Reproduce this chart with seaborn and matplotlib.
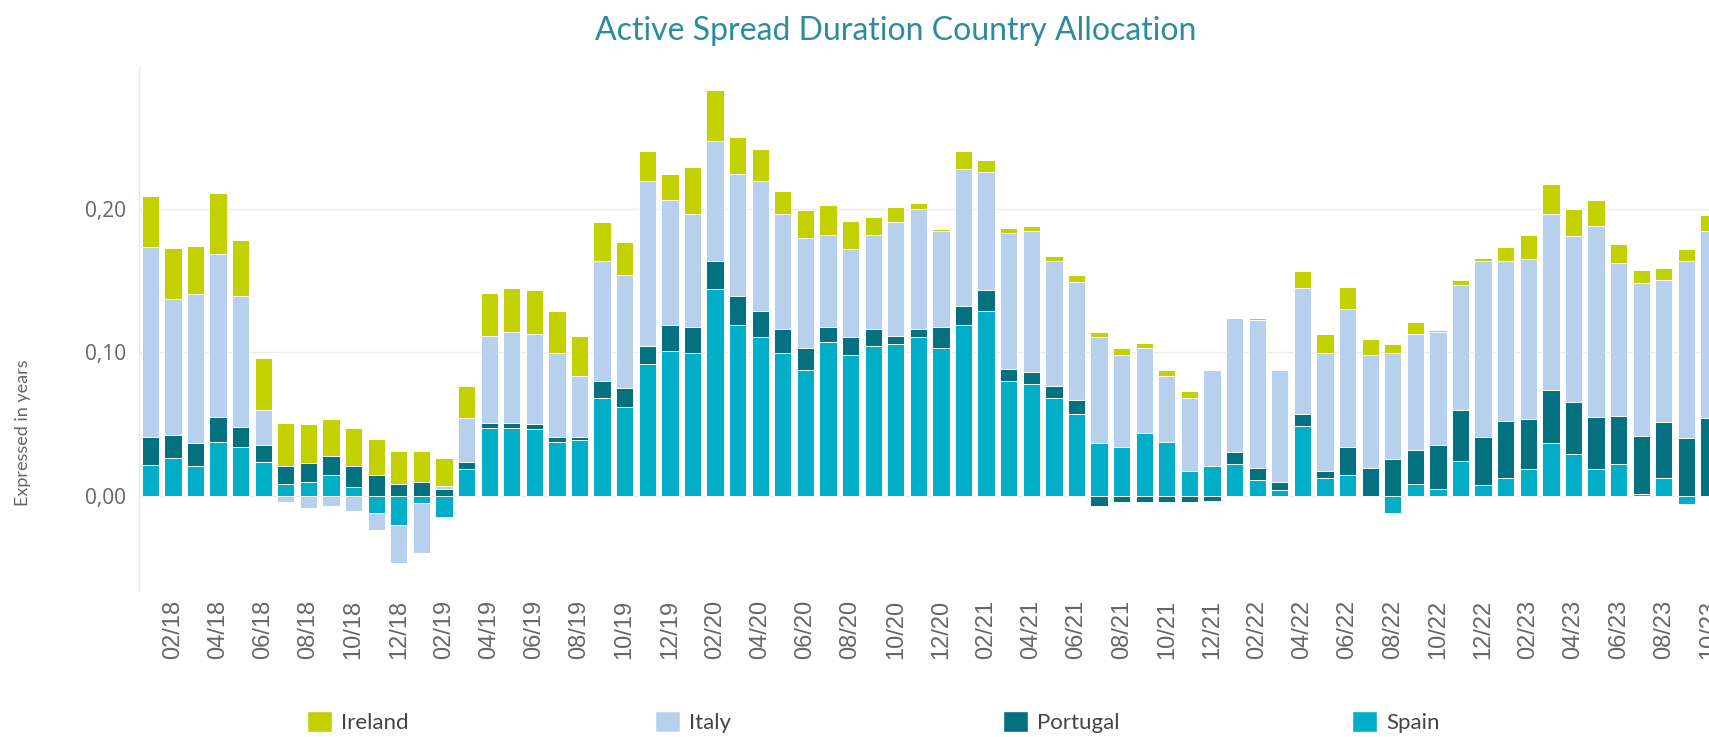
import numpy as np
import pandas as pd
import matplotlib
matplotlib.use("Agg")
import matplotlib.pyplot as plt
import seaborn as sns
from matplotlib.patches import Patch

months = [f"{m:02d}/{y}" for y in range(18, 24) for m in range(1, 13)][:70]

ireland = [0.036, 0.036, 0.0338, 0.0424, 0.0386, 0.0365, 0.030, 0.0266, 0.0254, 0.0266,
           0.0254, 0.023, 0.0216, 0.0194, 0.0218, 0.0293, 0.0305, 0.0305, 0.0293, 0.0278,
           0.0269, 0.023, 0.0206, 0.0182, 0.0326, 0.0353, 0.0254, 0.0218, 0.0158, 0.0194,
           0.0206, 0.0194, 0.0122, 0.0108, 0.0036, 0.0012, 0.0122, 0.0084, 0.0036, 0.0036,
           0.0036, 0.005, 0.0036, 0.005, 0.0036, 0.0036, 0.0048, 0.0012, -0.001, 0.0014,
           -0.001, 0.012, 0.0134, 0.0158, 0.011, 0.0062, 0.0084, 0.0012, 0.0036, 0.0024,
           0.0098, 0.017, 0.0206, 0.0194, 0.018, 0.0134, 0.0096, 0.0084, 0.0086, 0.011]
italy = [0.132, 0.0945, 0.104, 0.114, 0.092, 0.0242, -0.0046, -0.0084, -0.007, -0.0106,
         -0.012, -0.0264, -0.0348, 0.0024, 0.031, 0.0607, 0.063, 0.063, 0.0583, 0.0427,
         0.0837, 0.0789, 0.115, 0.087, 0.0787, 0.0839, 0.0849, 0.0909, 0.080, 0.0763,
         0.064, 0.0619, 0.0655, 0.0789, 0.0837, 0.0667, 0.0957, 0.0823, 0.0945, 0.0983,
         0.087, 0.0823, 0.0739, 0.064, 0.059, 0.046, 0.0508, 0.0667, 0.0933, 0.1029,
         0.0775, 0.0873, 0.0823, 0.0957, 0.0787, 0.0739, 0.081, 0.0787, 0.0873, 0.1223,
         0.1113, 0.1113, 0.1225, 0.1151, 0.1336, 0.1065, 0.1067, 0.0993, 0.1235, 0.131]
portugal = [0.0194, 0.016, 0.0158, 0.0168, 0.0137, 0.0122, 0.0122, 0.0132, 0.0132, 0.0146,
            0.0146, 0.0086, 0.010, 0.0048, 0.005, 0.0036, 0.0036, 0.0036, 0.0034, 0.0022,
            0.012, 0.0132, 0.0122, 0.0185, 0.0185, 0.0194, 0.0204, 0.0182, 0.017, 0.0158,
            0.011, 0.0122, 0.012, 0.006, 0.006, 0.0146, 0.0132, 0.0146, 0.0086, 0.0086,
            0.0086, 0.0098, -0.007, -0.0046, -0.0046, -0.0046, -0.0046, -0.0034, 0.0086, 0.0084,
            0.0062, 0.0086, 0.005, 0.0194, 0.0197, 0.0257, 0.0233, 0.0305, 0.0353, 0.034,
            0.0403, 0.0353, 0.0374, 0.0365, 0.0362, 0.034, 0.0405, 0.039, 0.0403, 0.054]
spain = [0.0218, 0.0266, 0.0209, 0.0379, 0.034, 0.0233, 0.0086, 0.010, 0.0149, 0.0062,
         -0.012, -0.0204, -0.0048, -0.0144, 0.0185, 0.0475, 0.0475, 0.0463, 0.0379, 0.039,
         0.0681, 0.0621, 0.0923, 0.1007, 0.0995, 0.1444, 0.1192, 0.1106, 0.0995, 0.0875,
         0.107, 0.0983, 0.1046, 0.1058, 0.1106, 0.1034, 0.1192, 0.1288, 0.080, 0.0777,
         0.0681, 0.0571, 0.0367, 0.0343, 0.0441, 0.0379, 0.0173, 0.0209, 0.022, 0.0113,
         0.0038, 0.0487, 0.0122, 0.0149, -0.001, -0.012, 0.0086, 0.005, 0.0245, 0.0074,
         0.0122, 0.0185, 0.0367, 0.0293, 0.0185, 0.022, 0.001, 0.0122, -0.0058, 0.0]

legend_names = ["Ireland", "Italy", "Portugal", "Spain"]
colors = {"Ireland": "#c3d100", "Italy": "#b7d0ee", "Portugal": "#03717f", "Spain": "#00aec7"}

sns.set_theme(style="white")
plt.rcParams["font.family"] = ["Lato", "DejaVu Sans"]

W, H = 1709, 737
fig = plt.figure(figsize=(W / 100, H / 100), dpi=100)
ax = fig.add_axes([139 / W, (H - 590) / H, 1 - 139 / W, (590 - 67) / H])

# stack order bottom -> top
stack = [("Spain", spain), ("Portugal", portugal), ("Italy", italy), ("Ireland", ireland)]
vals = np.array([s[1] for s in stack])
pos = np.cumsum(np.clip(vals, 0, None), axis=0)
neg = np.cumsum(np.clip(vals, None, 0), axis=0)

for k in reversed(range(len(stack))):
    name = stack[k][0]
    for cum in (pos[k], neg[k]):
        df = pd.DataFrame({"month": months, "value": cum})
        sns.barplot(data=df, x="month", y="value", order=months, color=colors[name],
                    saturation=1, width=0.765, edgecolor="white", linewidth=0.7,
                    errorbar=None, ax=ax)

ax.set_xlim(-0.5, 68.8)
ax.set_ylim(-0.0656, 0.299)
ax.set_yticks([0, 0.1, 0.2])
ax.set_yticklabels(["0,00", "0,10", "0,20"], fontsize=15, color="#666666", family=["Open Sans", "DejaVu Sans"])
ax.set_xticks(range(1, 70, 2))
ax.set_xticklabels(months[1::2], rotation=90, fontsize=17, color="#666666",
                   family=["Liberation Sans", "DejaVu Sans"])
ax.tick_params(axis="x", length=0, pad=7)
ax.tick_params(axis="y", length=0, pad=9)
ax.set_xlabel("")
ax.set_ylabel("")
ax.yaxis.grid(True, color="#ececec", lw=1)
ax.set_axisbelow(True)
for s in ["top", "right", "bottom"]:
    ax.spines[s].set_visible(False)
ax.spines["left"].set_color("#e8e8e8")
ax.spines["left"].set_linewidth(1)

fig.text(896 / W, 1 - 31 / H, "Active Spread Duration Country Allocation", ha="center", va="center",
         color="#2a8c9c", fontsize=23)
fig.text(23 / W, 1 - 433 / H, "Expressed in years", rotation=90, ha="center", va="center",
         color="#666666", fontsize=13)

fs = 16
lx = [307, 655, 1003, 1352]
for name, x in zip(legend_names, lx):
    fig.legend(handles=[Patch(facecolor=colors[name], edgecolor="white", label=name)],
               loc="center left", bbox_to_anchor=(x / W, 1 - 722 / H), frameon=False,
               borderpad=0, borderaxespad=0, fontsize=fs, handlelength=25 / 22.2,
               handleheight=24 / 22.2, handletextpad=0.4, labelcolor="#444444")

fig.savefig("out.png", dpi=100)
